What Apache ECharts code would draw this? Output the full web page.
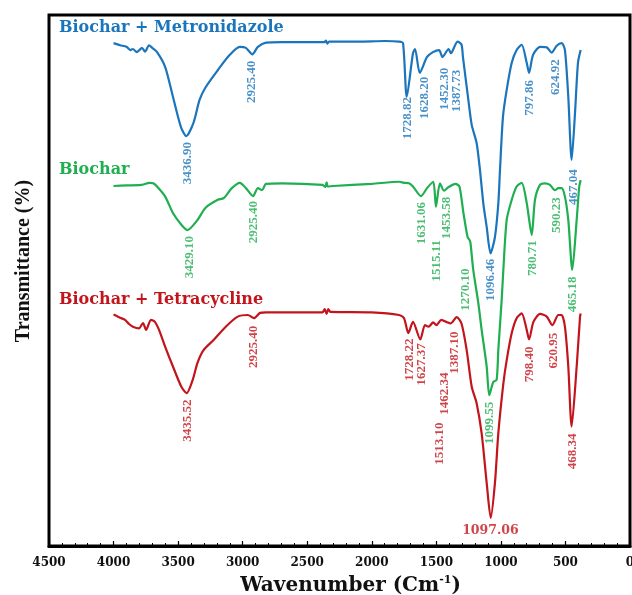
<!DOCTYPE html>
<html>
<head>
<meta charset="utf-8">
<script src="https://cdn.jsdelivr.net/npm/echarts@6/dist/echarts.min.js"></script>
<style>
  html, body { margin: 0; padding: 0; background: #fff; }
  #chart { width: 632px; height: 595px; }
</style>
</head>
<body>
<div id="chart"></div>
<script>
// x range (cm-1), tick step
const xMax = 4500
const xMin = 0
const xStep = 500

const seriesNames = ['Biochar + Metronidazole', 'Biochar', 'Biochar + Tetracycline']

// spectra: [wavenumber, transmittance (arb.)]
const metronidazole = [
  [4000, 94.7], [3950, 94.3], [3900, 94.0], [3870, 93.4], [3850, 93.6], [3820, 93.0], [3800, 93.4],
  [3780, 93.8], [3756, 93.1], [3725, 94.3], [3700, 93.8], [3663, 93.0], [3600, 90.2], [3540, 84.6],
  [3478, 78.9], [3437, 77.2], [3381, 79.7], [3334, 84.0], [3287, 86.4], [3193, 89.6], [3100, 92.5],
  [3022, 94.0], [2975, 93.8], [2925, 92.6], [2882, 94.0], [2819, 94.8], [2700, 94.9], [2500, 94.9],
  [2366, 94.9], [2355, 95.2], [2345, 94.6], [2330, 95.0], [2100, 95.0], [1900, 95.1], [1789, 95.0],
  [1758, 94.7], [1729, 84.6], [1681, 92.8], [1665, 93.6], [1628, 89.1], [1572, 92.1], [1526, 93.0],
  [1479, 93.4], [1452, 92.1], [1405, 93.6], [1387, 92.8], [1336, 95.0], [1305, 94.4], [1294, 92.1],
  [1255, 84.6], [1226, 79.3], [1188, 75.9], [1162, 70.8], [1136, 64.5], [1110, 60.1], [1080, 55.1],
  [1046, 58.2], [1020, 64.5], [1007, 70.8], [984, 80.8], [955, 85.9], [916, 91.0], [878, 93.4],
  [839, 94.4], [800, 91.0], [782, 89.1], [751, 92.5], [697, 94.0], [645, 93.9], [607, 92.9],
  [568, 94.2], [529, 94.7], [504, 93.4], [478, 84.6], [452, 72.7], [426, 81.5], [403, 91.0], [382, 93.4]
]

const biochar = [
  [4000, 67.8], [3900, 67.9], [3787, 68.0], [3720, 68.4], [3693, 68.3], [3663, 67.7], [3600, 65.8],
  [3540, 62.7], [3475, 60.5], [3428, 59.5], [3350, 61.4], [3287, 63.7], [3193, 65.2], [3147, 65.5],
  [3084, 67.4], [3022, 68.4], [2975, 67.4], [2920, 65.9], [2882, 67.4], [2850, 67.0], [2819, 68.2],
  [2695, 68.3], [2382, 68.0], [2360, 67.6], [2350, 68.5], [2340, 67.7], [2300, 67.8], [2000, 68.2],
  [1789, 68.6], [1750, 68.4], [1712, 68.3], [1681, 67.7], [1619, 65.9], [1572, 67.4], [1524, 68.6],
  [1503, 63.9], [1472, 68.3], [1440, 66.9], [1405, 67.6], [1352, 68.2], [1321, 67.7], [1290, 62.7],
  [1258, 58.2], [1242, 57.6], [1235, 57.0], [1214, 52.0], [1175, 45.8], [1149, 40.7], [1110, 33.8],
  [1090, 28.4], [1059, 30.9], [1033, 31.3], [1020, 36.9], [994, 46.3], [981, 52.0], [955, 61.4],
  [916, 65.2], [878, 67.7], [839, 68.4], [800, 64.6], [761, 58.6], [736, 65.2], [697, 68.0],
  [658, 68.3], [620, 68.0], [581, 67.0], [555, 67.4], [530, 67.4], [504, 65.8], [478, 61.4],
  [447, 52.0], [413, 61.4], [393, 67.7], [382, 68.9]
]

const tetracycline = [
  [4000, 43.6], [3950, 43.0], [3911, 42.6], [3880, 41.8], [3850, 41.3], [3803, 41.0], [3772, 42.0],
  [3748, 40.7], [3710, 42.6], [3680, 42.2], [3648, 40.7], [3600, 37.5], [3540, 33.8], [3475, 30.0],
  [3434, 28.8], [3387, 31.3], [3350, 34.5], [3303, 36.9], [3225, 38.8], [3131, 41.3], [3038, 43.2],
  [2960, 43.5], [2912, 42.9], [2866, 43.9], [2819, 44.0], [2382, 44.0], [2365, 44.6], [2350, 43.7],
  [2337, 44.6], [2320, 44.1], [2000, 44.0], [1789, 43.5], [1750, 42.9], [1717, 40.1], [1681, 42.2],
  [1624, 38.9], [1588, 41.6], [1560, 41.3], [1524, 42.1], [1500, 41.6], [1461, 42.6], [1414, 42.1],
  [1390, 41.9], [1342, 43.1], [1305, 41.9], [1265, 36.9], [1226, 30.0], [1188, 26.9], [1149, 21.2],
  [1110, 11.9], [1079, 5.3], [1046, 11.9], [1020, 21.2], [981, 30.6], [955, 35.0], [916, 40.1],
  [878, 42.9], [839, 43.8], [800, 40.7], [782, 38.9], [748, 42.2], [697, 43.7], [645, 43.2],
  [601, 41.6], [555, 43.5], [530, 43.5], [504, 41.3], [478, 33.8], [452, 22.5], [413, 33.8],
  [387, 43.2], [382, 43.8]
]

// peak labels: [wavenumber, transmittance, text]
const metroPeaks = [
  [3428, 72.1, '3436.90'], [2928, 87.4, '2925.40'], [1720, 80.6, '1728.82'], [1588, 84.4, '1628.20'],
  [1433, 86.1, '1452.30'], [1342, 85.7, '1387.73'], [1077, 50.1, '1096.46'], [775, 84.4, '797.86'],
  [573, 88.3, '624.92'], [434, 67.6, '467.04']
]
const biocharPeaks = [
  [3413, 54.4, '3429.10'], [2912, 61.0, '2925.40'], [1613, 60.8, '1631.06'], [1497, 53.7, '1515.11'],
  [1420, 61.8, '1453.58'], [1270, 48.3, '1270.10'], [1084, 23.2, '1099.55'], [754, 54.2, '780.71'],
  [568, 62.3, '590.23'], [444, 47.4, '465.18']
]
const tetraPeaks = [
  [3428, 23.6, '3435.52'], [2912, 37.5, '2925.40'], [1710, 35.1, '1728.22'], [1613, 34.2, '1627.37'],
  [1477, 19.3, '1513.10'], [1433, 28.7, '1462.34'], [1356, 36.4, '1387.10'], [780, 34.2, '798.40'],
  [594, 36.8, '620.95'], [444, 17.8, '468.34']
]
const tetraMainPeak = [[1081, 2.8, '1097.06']]

const colors = ['#1b75bc', '#1fae50', '#c3141c']
const wideFont = '"DejaVu Serif", serif'
const serifFont = '"Liberation Serif", "Times New Roman", serif'

const chart = echarts.init(document.getElementById('chart'))

function peakSeries(data, color, rotate, font, size) {
  return {
    type: 'scatter',
    data: data,
    symbol: 'circle',
    symbolSize: 1,
    silent: true,
    itemStyle: { color: 'transparent' },
    label: {
      show: true,
      position: 'inside',
      rotate: rotate,
      formatter: (p) => p.data[2],
      color: color,
      fontFamily: font,
      fontWeight: 'bold',
      fontSize: size,
    },
    z: 5,
  }
}

function lineSeries(name, data, color) {
  return {
    name: name,
    type: 'line',
    data: data,
    showSymbol: false,
    smooth: 0.25,
    lineStyle: { width: 2.2, color: color },
    itemStyle: { color: color },
  }
}

const option = {
  animation: false,
  backgroundColor: '#fff',
  grid: {
    left: 49,
    right: 2,
    top: 15,
    bottom: 49,
    outerBoundsMode: 'none',
    containLabel: false,
    show: true,
    borderColor: '#000',
    borderWidth: 3,
    backgroundColor: 'transparent',
  },
  xAxis: {
    type: 'value',
    inverse: true,
    min: xMin,
    max: xMax,
    interval: xStep,
    name: 'Wavenumber (Cm{sup|-1})',
    nameLocation: 'middle',
    nameGap: 29,
    nameTextStyle: {
      fontFamily: wideFont,
      fontWeight: 'bold',
      fontSize: 20,
      color: '#111',
      padding: [0, 0, 0, 22],
      rich: {
        sup: { fontFamily: wideFont, fontWeight: 'bold', fontSize: 11, verticalAlign: 'top', padding: [0, 0, 10, 0], color: '#111' },
      },
    },
    axisLine: { onZero: false, lineStyle: { color: '#000', width: 3 } },
    axisTick: { inside: true, length: 5, lineStyle: { color: '#000', width: 1.2 } },
    minorTick: { show: true, splitNumber: 5, length: 3, lineStyle: { color: '#000', width: 1 } },
    axisLabel: {
      margin: 11,
      fontFamily: wideFont,
      fontWeight: 'bold',
      fontSize: 12,
      color: '#111',
      formatter: (v) => String(v),
    },
    splitLine: { show: false },
  },
  yAxis: {
    type: 'value',
    min: 0,
    max: 100,
    show: false,
  },
  graphic: [
    {
      type: 'text', x: 24, y: 261, rotation: Math.PI / 2,
      style: { text: 'Transmittance (%)', align: 'center', verticalAlign: 'middle',
        font: 'bold 20px ' + serifFont, fill: '#111' },
    },
    {
      type: 'text', x: 59, y: 28,
      style: { text: seriesNames[0], align: 'left', verticalAlign: 'middle', font: 'bold 16px ' + wideFont, fill: colors[0] },
    },
    {
      type: 'text', x: 59, y: 170,
      style: { text: seriesNames[1], align: 'left', verticalAlign: 'middle', font: 'bold 16px ' + wideFont, fill: colors[1] },
    },
    {
      type: 'text', x: 59, y: 300,
      style: { text: seriesNames[2], align: 'left', verticalAlign: 'middle', font: 'bold 16px ' + wideFont, fill: colors[2] },
    },
  ],
  series: [
    lineSeries(seriesNames[2], tetracycline, colors[2]),
    lineSeries(seriesNames[1], biochar, colors[1]),
    lineSeries(seriesNames[0], metronidazole, colors[0]),
    peakSeries(metroPeaks, colors[0], 90, serifFont, 13),
    peakSeries(biocharPeaks, colors[1], 90, serifFont, 13),
    peakSeries(tetraPeaks, colors[2], 90, serifFont, 13),
    peakSeries(tetraMainPeak, colors[2], 0, wideFont, 12.5),
  ],
}

chart.setOption(option)
</script>
</body>
</html>
